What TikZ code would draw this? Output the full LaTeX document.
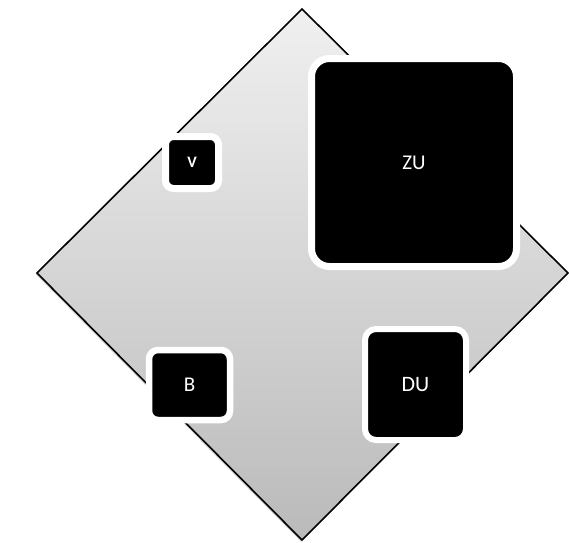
\documentclass[tikz,border=0pt]{standalone}
\usepackage{fontspec}
\setmainfont{Carlito}
\usetikzlibrary{shadows}
\definecolor{dtop}{RGB}{240,240,240}
\definecolor{dbot}{RGB}{186,186,186}
\tikzset{
  tile/.style={draw=white, fill=black, text=white, font=\fontsize{21}{24}\selectfont,
    drop shadow={shadow xshift=1pt, shadow yshift=-2pt, opacity=0.25, fill=black}},
}
\begin{document}
\begin{tikzpicture}[x=1pt,y=-1pt]
\useasboundingbox (0,0) rectangle (569,542);
\coordinate (T) at (302,9);
\coordinate (R) at (568,273);
\coordinate (Bt) at (302,540);
\coordinate (L) at (37,273);
\draw[line width=1.6pt, top color=dtop, bottom color=dbot, line join=miter,
  drop shadow={shadow xshift=-1pt, shadow yshift=-1.5pt, opacity=0.4}]
  (T) -- (R) -- (Bt) -- (L) -- cycle;
\node[tile, line width=7pt, rounded corners=18pt, minimum width=205pt, minimum height=208pt] (zu) at (414,162.5) {ZU};
\node[tile, line width=6pt, rounded corners=11pt, minimum width=101pt, minimum height=111pt, font=\fontsize{22}{25}\selectfont] (du) at (415.5,384.5) {DU};
\node[tile, line width=6.5pt, rounded corners=9pt, minimum width=81pt, minimum height=70pt] (b) at (189.5,385) {B};
\node[tile, line width=7pt, rounded corners=8pt, minimum width=53pt, minimum height=52pt, font=\bfseries\fontsize{16}{18}\selectfont] (v) at (192,162.5) {V};
\end{tikzpicture}
\end{document}
